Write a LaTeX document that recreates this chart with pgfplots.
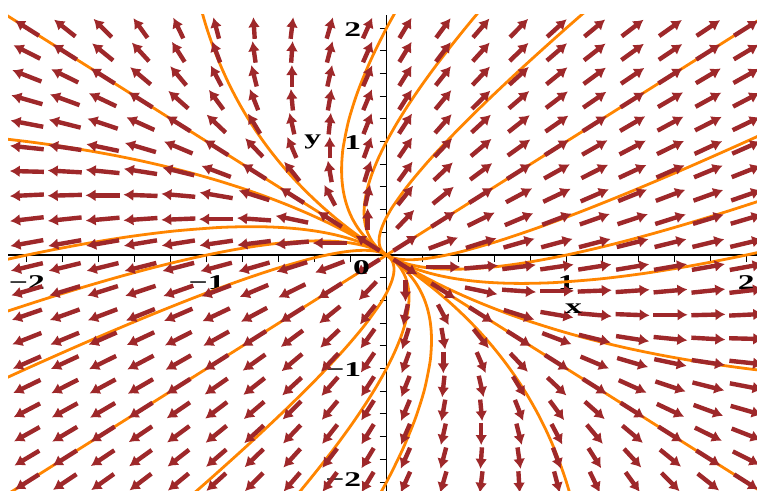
\documentclass[border=0pt]{standalone}
\usepackage{pgfplots}
\pgfplotsset{compat=1.18}
\usepackage{pgfplotstable}
\usetikzlibrary{arrows.meta}
\usepackage{fontspec}
\setmainfont{Liberation Serif}
\definecolor{arrowcol}{RGB}{158,40,42}
\definecolor{trajcol}{RGB}{255,133,0}
\newcommand{\lab}{\fontsize{21bp}{21bp}\selectfont\bfseries}

% grid index a,b (x = a*2/19, y = b*2/19) and field direction u,v
\pgfplotstableread{
a b u v
-19 -19 -76 -76
-19 -17 -74 -70
-19 -15 -72 -64
-19 -13 -70 -58
-19 -11 -68 -52
-19 -9 -66 -46
-19 -7 -64 -40
-19 -5 -62 -34
-19 -3 -60 -28
-19 -1 -58 -22
-19 1 -56 -16
-19 3 -54 -10
-19 5 -52 -4
-19 7 -50 2
-19 9 -48 8
-19 11 -46 14
-19 13 -44 20
-19 15 -42 26
-19 17 -40 32
-19 19 -38 38
-17 -19 -70 -74
-17 -17 -68 -68
-17 -15 -66 -62
-17 -13 -64 -56
-17 -11 -62 -50
-17 -9 -60 -44
-17 -7 -58 -38
-17 -5 -56 -32
-17 -3 -54 -26
-17 -1 -52 -20
-17 1 -50 -14
-17 3 -48 -8
-17 5 -46 -2
-17 7 -44 4
-17 9 -42 10
-17 11 -40 16
-17 13 -38 22
-17 15 -36 28
-17 17 -34 34
-17 19 -32 40
-15 -19 -64 -72
-15 -17 -62 -66
-15 -15 -60 -60
-15 -13 -58 -54
-15 -11 -56 -48
-15 -9 -54 -42
-15 -7 -52 -36
-15 -5 -50 -30
-15 -3 -48 -24
-15 -1 -46 -18
-15 1 -44 -12
-15 3 -42 -6
-15 5 -40 0
-15 7 -38 6
-15 9 -36 12
-15 11 -34 18
-15 13 -32 24
-15 15 -30 30
-15 17 -28 36
-15 19 -26 42
-13 -19 -58 -70
-13 -17 -56 -64
-13 -15 -54 -58
-13 -13 -52 -52
-13 -11 -50 -46
-13 -9 -48 -40
-13 -7 -46 -34
-13 -5 -44 -28
-13 -3 -42 -22
-13 -1 -40 -16
-13 1 -38 -10
-13 3 -36 -4
-13 5 -34 2
-13 7 -32 8
-13 9 -30 14
-13 11 -28 20
-13 13 -26 26
-13 15 -24 32
-13 17 -22 38
-13 19 -20 44
-11 -19 -52 -68
-11 -17 -50 -62
-11 -15 -48 -56
-11 -13 -46 -50
-11 -11 -44 -44
-11 -9 -42 -38
-11 -7 -40 -32
-11 -5 -38 -26
-11 -3 -36 -20
-11 -1 -34 -14
-11 1 -32 -8
-11 3 -30 -2
-11 5 -28 4
-11 7 -26 10
-11 9 -24 16
-11 11 -22 22
-11 13 -20 28
-11 15 -18 34
-11 17 -16 40
-11 19 -14 46
-9 -19 -46 -66
-9 -17 -44 -60
-9 -15 -42 -54
-9 -13 -40 -48
-9 -11 -38 -42
-9 -9 -36 -36
-9 -7 -34 -30
-9 -5 -32 -24
-9 -3 -30 -18
-9 -1 -28 -12
-9 1 -26 -6
-9 3 -24 0
-9 5 -22 6
-9 7 -20 12
-9 9 -18 18
-9 11 -16 24
-9 13 -14 30
-9 15 -12 36
-9 17 -10 42
-9 19 -8 48
-7 -19 -40 -64
-7 -17 -38 -58
-7 -15 -36 -52
-7 -13 -34 -46
-7 -11 -32 -40
-7 -9 -30 -34
-7 -7 -28 -28
-7 -5 -26 -22
-7 -3 -24 -16
-7 -1 -22 -10
-7 1 -20 -4
-7 3 -18 2
-7 5 -16 8
-7 7 -14 14
-7 9 -12 20
-7 11 -10 26
-7 13 -8 32
-7 15 -6 38
-7 17 -4 44
-7 19 -2 50
-5 -19 -34 -62
-5 -17 -32 -56
-5 -15 -30 -50
-5 -13 -28 -44
-5 -11 -26 -38
-5 -9 -24 -32
-5 -7 -22 -26
-5 -5 -20 -20
-5 -3 -18 -14
-5 -1 -16 -8
-5 1 -14 -2
-5 3 -12 4
-5 5 -10 10
-5 7 -8 16
-5 9 -6 22
-5 11 -4 28
-5 13 -2 34
-5 15 0 40
-5 17 2 46
-5 19 4 52
-3 -19 -28 -60
-3 -17 -26 -54
-3 -15 -24 -48
-3 -13 -22 -42
-3 -11 -20 -36
-3 -9 -18 -30
-3 -7 -16 -24
-3 -5 -14 -18
-3 -3 -12 -12
-3 -1 -10 -6
-3 1 -8 0
-3 3 -6 6
-3 5 -4 12
-3 7 -2 18
-3 9 0 24
-3 11 2 30
-3 13 4 36
-3 15 6 42
-3 17 8 48
-3 19 10 54
-1 -19 -22 -58
-1 -17 -20 -52
-1 -15 -18 -46
-1 -13 -16 -40
-1 -11 -14 -34
-1 -9 -12 -28
-1 -7 -10 -22
-1 -5 -8 -16
-1 -3 -6 -10
-1 -1 -4 -4
-1 1 -2 2
-1 3 0 8
-1 5 2 14
-1 7 4 20
-1 9 6 26
-1 11 8 32
-1 13 10 38
-1 15 12 44
-1 17 14 50
-1 19 16 56
1 -19 -16 -56
1 -17 -14 -50
1 -15 -12 -44
1 -13 -10 -38
1 -11 -8 -32
1 -9 -6 -26
1 -7 -4 -20
1 -5 -2 -14
1 -3 0 -8
1 -1 2 -2
1 1 4 4
1 3 6 10
1 5 8 16
1 7 10 22
1 9 12 28
1 11 14 34
1 13 16 40
1 15 18 46
1 17 20 52
1 19 22 58
3 -19 -10 -54
3 -17 -8 -48
3 -15 -6 -42
3 -13 -4 -36
3 -11 -2 -30
3 -9 0 -24
3 -7 2 -18
3 -5 4 -12
3 -3 6 -6
3 -1 8 0
3 1 10 6
3 3 12 12
3 5 14 18
3 7 16 24
3 9 18 30
3 11 20 36
3 13 22 42
3 15 24 48
3 17 26 54
3 19 28 60
5 -19 -4 -52
5 -17 -2 -46
5 -15 0 -40
5 -13 2 -34
5 -11 4 -28
5 -9 6 -22
5 -7 8 -16
5 -5 10 -10
5 -3 12 -4
5 -1 14 2
5 1 16 8
5 3 18 14
5 5 20 20
5 7 22 26
5 9 24 32
5 11 26 38
5 13 28 44
5 15 30 50
5 17 32 56
5 19 34 62
7 -19 2 -50
7 -17 4 -44
7 -15 6 -38
7 -13 8 -32
7 -11 10 -26
7 -9 12 -20
7 -7 14 -14
7 -5 16 -8
7 -3 18 -2
7 -1 20 4
7 1 22 10
7 3 24 16
7 5 26 22
7 7 28 28
7 9 30 34
7 11 32 40
7 13 34 46
7 15 36 52
7 17 38 58
7 19 40 64
9 -19 8 -48
9 -17 10 -42
9 -15 12 -36
9 -13 14 -30
9 -11 16 -24
9 -9 18 -18
9 -7 20 -12
9 -5 22 -6
9 -3 24 0
9 -1 26 6
9 1 28 12
9 3 30 18
9 5 32 24
9 7 34 30
9 9 36 36
9 11 38 42
9 13 40 48
9 15 42 54
9 17 44 60
9 19 46 66
11 -19 14 -46
11 -17 16 -40
11 -15 18 -34
11 -13 20 -28
11 -11 22 -22
11 -9 24 -16
11 -7 26 -10
11 -5 28 -4
11 -3 30 2
11 -1 32 8
11 1 34 14
11 3 36 20
11 5 38 26
11 7 40 32
11 9 42 38
11 11 44 44
11 13 46 50
11 15 48 56
11 17 50 62
11 19 52 68
13 -19 20 -44
13 -17 22 -38
13 -15 24 -32
13 -13 26 -26
13 -11 28 -20
13 -9 30 -14
13 -7 32 -8
13 -5 34 -2
13 -3 36 4
13 -1 38 10
13 1 40 16
13 3 42 22
13 5 44 28
13 7 46 34
13 9 48 40
13 11 50 46
13 13 52 52
13 15 54 58
13 17 56 64
13 19 58 70
15 -19 26 -42
15 -17 28 -36
15 -15 30 -30
15 -13 32 -24
15 -11 34 -18
15 -9 36 -12
15 -7 38 -6
15 -5 40 0
15 -3 42 6
15 -1 44 12
15 1 46 18
15 3 48 24
15 5 50 30
15 7 52 36
15 9 54 42
15 11 56 48
15 13 58 54
15 15 60 60
15 17 62 66
15 19 64 72
17 -19 32 -40
17 -17 34 -34
17 -15 36 -28
17 -13 38 -22
17 -11 40 -16
17 -9 42 -10
17 -7 44 -4
17 -5 46 2
17 -3 48 8
17 -1 50 14
17 1 52 20
17 3 54 26
17 5 56 32
17 7 58 38
17 9 60 44
17 11 62 50
17 13 64 56
17 15 66 62
17 17 68 68
17 19 70 74
19 -19 38 -38
19 -17 40 -32
19 -15 42 -26
19 -13 44 -20
19 -11 46 -14
19 -9 48 -8
19 -7 50 -2
19 -5 52 4
19 -3 54 10
19 -1 56 16
19 1 58 22
19 3 60 28
19 5 62 34
19 7 64 40
19 9 66 46
19 11 68 52
19 13 70 58
19 15 72 64
19 17 74 70
19 19 76 76
}\field

\begin{document}
\begin{tikzpicture}
\useasboundingbox (-8bp,0) rectangle (749bp,491bp);
\begin{axis}[
  at={(0,0)}, anchor=south west,
  scale only axis, width=749bp, height=476bp,
  xmin=-2.105, xmax=2.06, ymin=-2.079, ymax=2.115,
  axis lines=middle,
  axis line style={-, line width=1.2bp, black},
  xtick={-2,-1,1,2}, ytick={-2,-1,1,2},
  xticklabels={−2,−1,1,2}, yticklabels={\raisebox{8bp}{−2},−1,1,2},
  minor xtick={-1.8,-1.6,-1.4,-1.2,-0.8,-0.6,-0.4,-0.2,0.2,0.4,0.6,0.8,1.2,1.4,1.6,1.8},
  minor ytick={-1.8,-1.6,-1.4,-1.2,-0.8,-0.6,-0.4,-0.2,0.2,0.4,0.6,0.8,1.2,1.4,1.6,1.8},
  major tick length=7bp, minor tick length=7bp,
  tick align=outside,
  tick style={black, line width=1bp},
  xticklabel style={font=\lab, anchor=center, yshift=-21bp, xscale=1.6, inner sep=0pt},
  yticklabel style={font=\lab, anchor=east, xshift=-18bp, yshift=-1.5bp, xscale=1.6, inner sep=0pt},
  clip=true,
]
% trajectories
\pgfplotsset{traj/.style={trajcol, line width=2.8bp, smooth}}
\addplot[traj] coordinates {(0,0) (-2.3,2.3)};
\addplot[traj] coordinates {(0,0) (2.3,-2.3)};
\addplot[traj] coordinates {(0,0) (2.3,2.3)};
\addplot[traj] coordinates {(0,0) (-2.3,-2.3)};
\addplot[traj] coordinates {(0,0) (-0.0978,0.1022) (-0.1911,0.2089) (-0.28,0.32) (-0.3644,0.4356) (-0.4444,0.5556) (-0.52,0.68) (-0.5911,0.8089) (-0.6578,0.9422) (-0.72,1.08) (-0.7778,1.2222) (-0.8311,1.3689) (-0.88,1.52) (-0.9244,1.6756) (-0.9644,1.8356) (-1.0,2.0) (-1.0311,2.1689) (-1.0578,2.3422)};
\addplot[traj] coordinates {(0,0) (0.0978,-0.1022) (0.1911,-0.2089) (0.28,-0.32) (0.3644,-0.4356) (0.4444,-0.5556) (0.52,-0.68) (0.5911,-0.8089) (0.6578,-0.9422) (0.72,-1.08) (0.7778,-1.2222) (0.8311,-1.3689) (0.88,-1.52) (0.9244,-1.6756) (0.9644,-1.8356) (1.0,-2.0) (1.0311,-2.1689) (1.0578,-2.3422)};
\addplot[traj] coordinates {(0,0) (-0.1022,0.0978) (-0.2089,0.1911) (-0.32,0.28) (-0.4356,0.3644) (-0.5556,0.4444) (-0.68,0.52) (-0.8089,0.5911) (-0.9422,0.6578) (-1.08,0.72) (-1.2222,0.7778) (-1.3689,0.8311) (-1.52,0.88) (-1.6756,0.9244) (-1.8356,0.9644) (-2.0,1.0) (-2.1689,1.0311) (-2.3422,1.0578)};
\addplot[traj] coordinates {(0,0) (0.1022,-0.0978) (0.2089,-0.1911) (0.32,-0.28) (0.4356,-0.3644) (0.5556,-0.4444) (0.68,-0.52) (0.8089,-0.5911) (0.9422,-0.6578) (1.08,-0.72) (1.2222,-0.7778) (1.3689,-0.8311) (1.52,-0.88) (1.6756,-0.9244) (1.8356,-0.9644) (2.0,-1.0) (2.1689,-1.0311) (2.3422,-1.0578)};
\addplot[traj] coordinates {(0,0) (-0.0475,0.0525) (-0.09,0.11) (-0.1275,0.1725) (-0.16,0.24) (-0.1875,0.3125) (-0.21,0.39) (-0.2275,0.4725) (-0.24,0.56) (-0.2475,0.6525) (-0.25,0.75) (-0.2475,0.8525) (-0.24,0.96) (-0.21,1.19) (-0.16,1.44) (-0.09,1.71) (0,2) (0.11,2.31)};
\addplot[traj] coordinates {(0,0) (0.0475,-0.0525) (0.09,-0.11) (0.1275,-0.1725) (0.16,-0.24) (0.1875,-0.3125) (0.21,-0.39) (0.2275,-0.4725) (0.24,-0.56) (0.2475,-0.6525) (0.25,-0.75) (0.2475,-0.8525) (0.24,-0.96) (0.21,-1.19) (0.16,-1.44) (0.09,-1.71) (0,-2) (-0.11,-2.31)};
\addplot[traj] coordinates {(0,0) (-0.0525,0.0475) (-0.11,0.09) (-0.1725,0.1275) (-0.24,0.16) (-0.3125,0.1875) (-0.39,0.21) (-0.4725,0.2275) (-0.56,0.24) (-0.6525,0.2475) (-0.75,0.25) (-0.8525,0.2475) (-0.96,0.24) (-1.19,0.21) (-1.44,0.16) (-1.71,0.09) (-2,0) (-2.31,-0.11)};
\addplot[traj] coordinates {(0,0) (0.0525,-0.0475) (0.11,-0.09) (0.1725,-0.1275) (0.24,-0.16) (0.3125,-0.1875) (0.39,-0.21) (0.4725,-0.2275) (0.56,-0.24) (0.6525,-0.2475) (0.75,-0.25) (0.8525,-0.2475) (0.96,-0.24) (1.19,-0.21) (1.44,-0.16) (1.71,-0.09) (2,0) (2.31,0.11)};
\addplot[traj] coordinates {(0,0) (-0.045,0.055) (-0.08,0.12) (-0.105,0.195) (-0.12,0.28) (-0.125,0.375) (-0.12,0.48) (-0.105,0.595) (-0.08,0.72) (-0.045,0.855) (0,1.0) (0.055,1.155) (0.12,1.32) (0.195,1.495) (0.28,1.68) (0.375,1.875) (0.48,2.08) (0.595,2.295)};
\addplot[traj] coordinates {(0,0) (0.045,-0.055) (0.08,-0.12) (0.105,-0.195) (0.12,-0.28) (0.125,-0.375) (0.12,-0.48) (0.105,-0.595) (0.08,-0.72) (0.045,-0.855) (0,-1.0) (-0.055,-1.155) (-0.12,-1.32) (-0.195,-1.495) (-0.28,-1.68) (-0.375,-1.875) (-0.48,-2.08) (-0.595,-2.295)};
\addplot[traj] coordinates {(0,0) (-0.055,0.045) (-0.12,0.08) (-0.195,0.105) (-0.28,0.12) (-0.375,0.125) (-0.48,0.12) (-0.595,0.105) (-0.72,0.08) (-0.855,0.045) (-1.0,0) (-1.155,-0.055) (-1.32,-0.12) (-1.495,-0.195) (-1.68,-0.28) (-1.875,-0.375) (-2.08,-0.48) (-2.295,-0.595)};
\addplot[traj] coordinates {(0,0) (0.055,-0.045) (0.12,-0.08) (0.195,-0.105) (0.28,-0.12) (0.375,-0.125) (0.48,-0.12) (0.595,-0.105) (0.72,-0.08) (0.855,-0.045) (1.0,0) (1.155,0.055) (1.32,0.12) (1.495,0.195) (1.68,0.28) (1.875,0.375) (2.08,0.48) (2.295,0.595)};
\addplot[traj] coordinates {(0,0) (-0.02125,0.02875) (-0.035,0.065) (-0.04125,0.10875) (-0.04,0.16) (-0.03125,0.21875) (-0.015,0.285) (0.00875,0.35875) (0.04,0.44) (0.125,0.625) (0.24,0.84) (0.385,1.085) (0.56,1.36) (0.765,1.665) (1.0,2.0) (1.265,2.365)};
\addplot[traj] coordinates {(0,0) (0.02125,-0.02875) (0.035,-0.065) (0.04125,-0.10875) (0.04,-0.16) (0.03125,-0.21875) (0.015,-0.285) (-0.00875,-0.35875) (-0.04,-0.44) (-0.125,-0.625) (-0.24,-0.84) (-0.385,-1.085) (-0.56,-1.36) (-0.765,-1.665) (-1.0,-2.0) (-1.265,-2.365)};
\addplot[traj] coordinates {(0,0) (-0.02875,0.02125) (-0.065,0.035) (-0.10875,0.04125) (-0.16,0.04) (-0.21875,0.03125) (-0.285,0.015) (-0.35875,-0.00875) (-0.44,-0.04) (-0.625,-0.125) (-0.84,-0.24) (-1.085,-0.385) (-1.36,-0.56) (-1.665,-0.765) (-2.0,-1.0) (-2.365,-1.265)};
\addplot[traj] coordinates {(0,0) (0.02875,-0.02125) (0.065,-0.035) (0.10875,-0.04125) (0.16,-0.04) (0.21875,-0.03125) (0.285,-0.015) (0.35875,0.00875) (0.44,0.04) (0.625,0.125) (0.84,0.24) (1.085,0.385) (1.36,0.56) (1.665,0.765) (2.0,1.0) (2.365,1.265)};
% direction field
\addplot[arrowcol, line width=4.4bp, -{Latex[length=10bp,width=12bp]},
  quiver={u={0.19*\thisrow{u}/sqrt((\thisrow{u})*(\thisrow{u})+(\thisrow{v})*(\thisrow{v}))},
          v={0.19*\thisrow{v}/sqrt((\thisrow{u})*(\thisrow{u})+(\thisrow{v})*(\thisrow{v}))}}]
  table[x expr={\thisrow{a}*2/19-0.095*\thisrow{u}/sqrt((\thisrow{u})*(\thisrow{u})+(\thisrow{v})*(\thisrow{v}))},
        y expr={\thisrow{b}*2/19-0.095*\thisrow{v}/sqrt((\thisrow{u})*(\thisrow{u})+(\thisrow{v})*(\thisrow{v}))}] {\field};
\node[font=\lab, xscale=1.6, inner sep=0pt] at (axis cs:-0.139,-0.115) {0};
\node[font=\lab, xscale=1.6, inner sep=0pt] at (axis cs:1.04,-0.47) {x};
\node[font=\lab, xscale=1.6, inner sep=0pt] at (axis cs:-0.41,1.0) {y};
\end{axis}
\end{tikzpicture}
\end{document}
